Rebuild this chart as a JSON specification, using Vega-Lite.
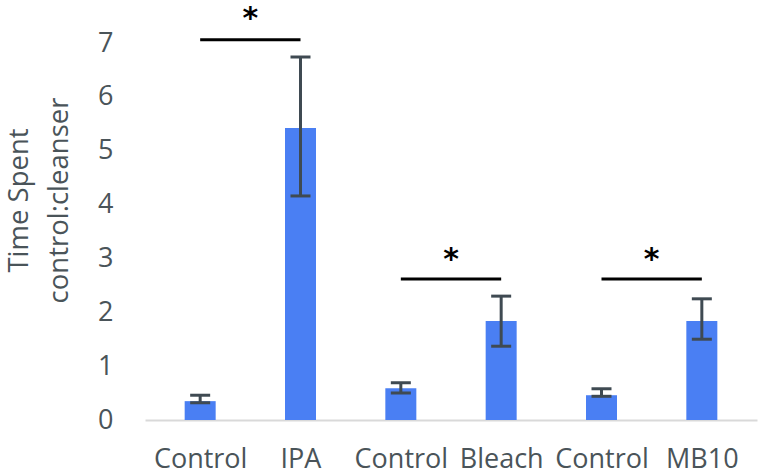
{
  "$schema": "https://vega.github.io/schema/vega-lite/v6.json",
  "width": 612,
  "height": 377,
  "autosize": {"type": "none"},
  "padding": {"left": 145, "top": 43, "right": 1, "bottom": 54},
  "background": "white",
  "config": {
    "view": {"stroke": null},
    "font": "Open Sans"
  },
  "datasets": {
    "bars": [
      {"idx": 0, "group": "Control", "mean": 0.35, "lo": 0.32, "hi": 0.46},
      {"idx": 1, "group": "IPA", "mean": 5.42, "lo": 4.16, "hi": 6.74},
      {"idx": 2, "group": "Control", "mean": 0.59, "lo": 0.5, "hi": 0.69},
      {"idx": 3, "group": "Bleach", "mean": 1.84, "lo": 1.37, "hi": 2.3},
      {"idx": 4, "group": "Control", "mean": 0.46, "lo": 0.44, "hi": 0.58},
      {"idx": 5, "group": "MB10", "mean": 1.84, "lo": 1.5, "hi": 2.25}
    ],
    "sig": [
      {"from": 0, "to": 1, "mid": 0.5, "y": 7.06, "star_y": 7.27, "label": "*"},
      {"from": 2, "to": 3, "mid": 2.5, "y": 2.62, "star_y": 2.81, "label": "*"},
      {"from": 4, "to": 5, "mid": 4.5, "y": 2.62, "star_y": 2.81, "label": "*"}
    ]
  },
  "layer": [
    {
      "data": {"name": "bars"},
      "mark": {"type": "bar", "size": 31, "color": "#4a7ff3"},
      "encoding": {
        "x": {
          "field": "idx", "type": "quantitative",
          "scale": {"domain": [-0.5, 5.5], "nice": false, "zero": false},
          "axis": {
            "values": [0, 1, 2, 3, 4, 5],
            "labelExpr": "['Control','IPA','Control','Bleach','Control','MB10'][datum.value]",
            "title": null,
            "ticks": false,
            "grid": false,
            "domainColor": "#d9d9d9",
            "domainWidth": 2,
            "labelFontSize": 27,
            "labelColor": "#4a5459",
            "labelPadding": 26,
            "labelFlush": false
          }
        },
        "y": {
          "field": "mean", "type": "quantitative",
          "scale": {"domain": [0, 7], "nice": false},
          "axis": {
            "values": [0, 1, 2, 3, 4, 5, 6, 7],
            "format": "d",
            "title": ["Time Spent", "control:cleanser"],
            "titleFontSize": 27.5,
            "titleFontWeight": "normal",
            "titleColor": "#4a5459",
            "titleLineHeight": 40,
            "titleAngle": -90,
            "titleAlign": "center",
            "titleBaseline": "middle",
            "titleX": -126,
            "titleY": 157,
            "ticks": false,
            "grid": false,
            "domain": false,
            "labelFontSize": 27,
            "labelColor": "#4a5459",
            "labelPadding": 32
          }
        }
      }
    },
    {
      "data": {"name": "bars"},
      "mark": {"type": "rule", "color": "#3f4a52", "strokeWidth": 3},
      "encoding": {
        "x": {"field": "idx", "type": "quantitative"},
        "y": {"field": "lo", "type": "quantitative"},
        "y2": {"field": "hi"}
      }
    },
    {
      "data": {"name": "bars"},
      "mark": {"type": "tick", "orient": "horizontal", "size": 20, "thickness": 3, "color": "#3f4a52", "opacity": 1},
      "encoding": {
        "x": {"field": "idx", "type": "quantitative"},
        "y": {"field": "lo", "type": "quantitative"}
      }
    },
    {
      "data": {"name": "bars"},
      "mark": {"type": "tick", "orient": "horizontal", "size": 20, "thickness": 3, "color": "#3f4a52", "opacity": 1},
      "encoding": {
        "x": {"field": "idx", "type": "quantitative"},
        "y": {"field": "hi", "type": "quantitative"}
      }
    },
    {
      "data": {"name": "sig"},
      "mark": {"type": "rule", "color": "black", "strokeWidth": 3},
      "encoding": {
        "x": {"field": "from", "type": "quantitative"},
        "x2": {"field": "to"},
        "y": {"field": "y", "type": "quantitative"}
      }
    },
    {
      "data": {"name": "sig"},
      "mark": {"type": "text", "fontSize": 30, "fontWeight": "bold", "color": "black", "baseline": "alphabetic", "align": "center", "font": "DejaVu Sans"},
      "encoding": {
        "x": {"field": "mid", "type": "quantitative"},
        "y": {"field": "star_y", "type": "quantitative"},
        "text": {"field": "label"}
      }
    }
  ]
}
